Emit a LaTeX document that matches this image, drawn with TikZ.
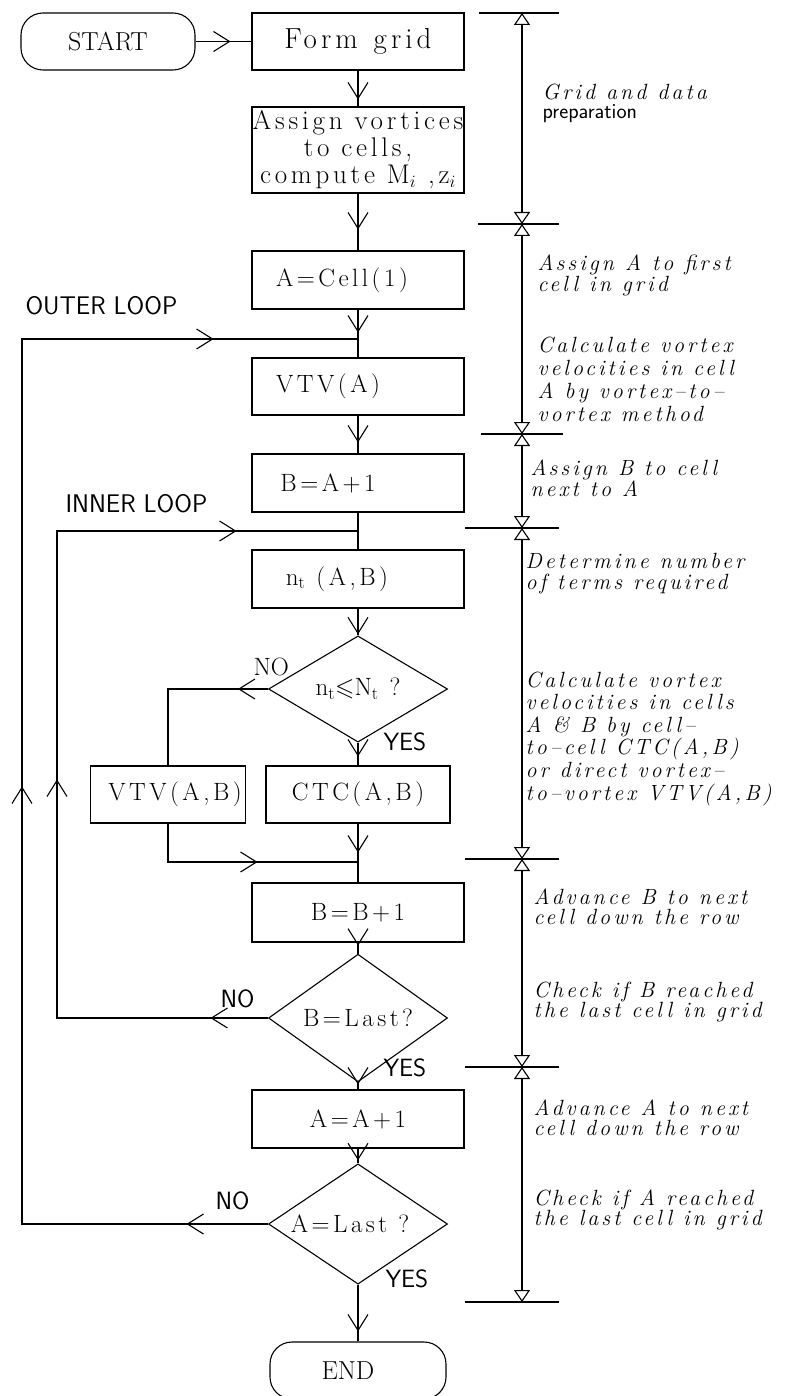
\documentclass[tikz,border=0pt]{standalone}
\usepackage{amssymb}
\usepackage{fontspec}
\setmainfont{Latin Modern Roman}
\newfontfamily\boxf{Latin Modern Roman}[LetterSpace=14]
\newfontfamily\notef{Latin Modern Roman}[LetterSpace=14]
\newfontfamily\lblf{Latin Modern Sans}
\newcommand{\notefont}[2]{\notef\itshape\fontsize{#1}{#2}\selectfont\spaceskip 11pt plus 1pt minus 1pt\relax}
\newcommand{\formfont}{\boxf\fontsize{29}{30}\selectfont\spaceskip 16pt\relax}
\usetikzlibrary{arrows.meta,decorations.markings,shapes.geometric}
\tikzset{
  vtip/.tip={Straight Barb[length=16pt,width=20pt]},
  dimtip/.tip={Triangle[open,length=12pt,width=16pt]},
  boxnode/.style={draw, rectangle, minimum width=212pt, inner sep=0pt, align=center,
    font=\boxf\fontsize{25}{27}\selectfont},
  term/.style={draw, rectangle, rounded corners=22pt, minimum width=174pt, minimum height=57pt,
    inner sep=0pt, font=\fontsize{26}{28}\selectfont},
  decision/.style={draw, diamond, minimum width=179pt, minimum height=89pt, inner sep=0pt,
    font=\boxf\fontsize{25}{27}\selectfont},
  arrowat/.style={postaction={decorate, decoration={markings, mark=at position #1 with {\arrow{vtip}}}}},
  note/.style={anchor=base west, inner sep=0pt, align=flush left, text width=300pt,
    font=\notefont{22}{20}},
  lbl/.style={anchor=base west, inner sep=0pt, font=\lblf\fontsize{25}{27}\selectfont},
}
\begin{document}
\begin{tikzpicture}[x=1pt, y=-1pt, line width=1.1pt]
\useasboundingbox (0,0) rectangle (788,1396);

% ---- main column ----
\node[term] (start) at (108,41.5) {START};
\node[boxnode, minimum height=57pt, font=\formfont] (form) at (358,41.5) {Form grid};
\node[boxnode, minimum height=86pt, font=\boxf\fontsize{27}{27}\selectfont] (assign) at (358,150)
  {Assign vortices\\to cells,\\compute M$_i$ ,z$_i$};
\node[boxnode, minimum height=58pt] (cell1) at (358,280) {\hspace*{-32pt}A=Cell(1)};
\node[boxnode, minimum height=57pt] (vtva) at (358,386.5) {\hspace*{-60pt}VTV(A)};
\node[boxnode, minimum height=58pt] (ba1) at (358,483) {\hspace*{-60pt}B=A+1};
\node[boxnode, minimum height=58pt] (nt) at (358,579) {\hspace*{-42pt}n$_\mathrm{t}$ (A,B)};
\node[decision] (d1) at (358,689) {n$_\mathrm{t}$$\leqslant$N$_\mathrm{t}$ ?};
\node[boxnode, minimum width=184pt, minimum height=57pt] (ctc) at (358,794.5) {CTC(A,B)};
\node[boxnode, minimum width=155pt, minimum height=57pt] (vtvab) at (168,794.5) {\hspace*{14pt}VTV(A,B)};
\node[boxnode, minimum height=59pt] (bb1) at (358,912.5) {B=B+1};
\node[decision] (d2) at (358,1018) {B=Last?};
\node[boxnode, minimum height=58pt] (aa1) at (358,1119) {A=A+1};
\node[decision] (d3) at (358,1224) {\hspace*{-16pt}A=Last ?};
\node[term, minimum width=176pt] (end) at (358,1370.5) {\hspace*{-20pt}END};

\coordinate (j0) at (358,339);
\coordinate (j1) at (358,531);
\coordinate (j2) at (358,862);
\coordinate (c3) at (57,531);
\coordinate (c4) at (22,339);

% ---- connectors ----
\draw[arrowat=35pt] (start) -- (form);
\draw[arrowat=-7pt] (form) -- (assign);
\draw[arrowat=-21pt] (assign) -- (cell1);
\draw[arrowat=23pt] (cell1) -- (vtva);
\draw[arrowat=-11pt] (vtva) -- (ba1);
\draw (ba1) -- (nt);
\draw[arrowat=-1pt] (nt) -- (d1);
\draw[arrowat=-9pt] (d1) -- (ctc);
\draw[arrowat=29pt] (ctc) -- (bb1);
\draw[arrowat=-8pt] (bb1) -- (d2);
\draw[arrowat=-5pt] (d2) -- (aa1);
\draw[arrowat=-3pt] (aa1) -- (d3);
\draw[arrowat=-10pt] (d3) -- (end);
\draw[arrowat=30pt] (d1.west) -| (vtvab.north);
\draw[arrowat=128pt] (vtvab.south) |- (j2);
\draw[arrowat=57.5pt, arrowat=449.5pt, arrowat=877.5pt] (d2.west) -| (c3) -- (j1);
\draw[arrowat=81.5pt, arrowat=683.5pt, arrowat=1322.5pt] (d3.west) -| (c4) -- (j0);

% ---- labels ----
\node[lbl, font=\lblf\fontsize{25.5}{27}\selectfont] (outer) at (25,315) {OUTER LOOP};
\node[lbl, font=\lblf\fontsize{25.5}{27}\selectfont] (inner) at (65,512) {INNER LOOP};
\node[lbl, font=\fontsize{25}{27}\selectfont] (no1) at (253,675) {NO};
\node[lbl] (yes1) at (383,750) {YES};
\node[lbl] (no2) at (220,1007) {NO};
\node[lbl] (yes2) at (383,1076) {YES};
\node[lbl] (no3) at (215,1209) {NO};
\node[lbl] (yes3) at (385,1287) {YES};

% ---- dimension line ----
\coordinate (t0) at (522,13);
\coordinate (t1) at (522,224);
\coordinate (t2) at (522,434);
\coordinate (t3) at (522,528);
\coordinate (t4) at (522,859);
\coordinate (t5) at (522,1067);
\coordinate (t6) at (522,1302);
\draw (479,13) -- (559,13);
\draw (478,224) -- (559,224);
\draw (481,434) -- (563,434);
\draw (465,528) -- (559,528);
\draw (465,859) -- (559,859);
\draw (465,1067) -- (559,1067);
\draw (465,1302) -- (559,1302);
\draw[dimtip-dimtip] (t0) -- (t1);
\draw[dimtip-dimtip] (t1) -- (t2);
\draw[dimtip-dimtip] (t2) -- (t3);
\draw[dimtip-dimtip] (t3) -- (t4);
\draw[dimtip-dimtip] (t4) -- (t5);
\draw[dimtip-dimtip] (t5) -- (t6);

% ---- notes ----
\node[note] (n1) at (542,100) {Grid and data};
\node[lbl, font=\lblf\fontsize{21.5}{23}\selectfont] (n1b) at (542,119) {preparation};
\node[note, font=\notefont{22}{17}] (n2) at (537,271) {Assign A to first\\cell in grid};
\node[note, font=\notefont{22}{23.3}] (n3) at (537,352)
  {Calculate vortex\\velocities in cell\\A by vortex–to–\\vortex method};
\node[note] (n4) at (530,475) {Assign B to cell\\next to A};
\node[note, font=\notefont{22}{21}] (n5) at (525,568) {Determine number\\of terms required};
\node[note, font=\notefont{22}{22.6}] (n6) at (525,687)
  {Calculate vortex\\velocities in cells\\A \& B by cell–\\to–cell CTC(A,B)\\or direct vortex–\\to–vortex VTV(A,B)};
\node[note] (n7) at (533,904) {Advance B to next\\cell down the row};
\node[note] (n8) at (533,997) {Check if B reached\\the last cell in grid};
\node[note] (n9) at (533,1115) {Advance A to next\\cell down the row};
\node[note] (n10) at (533,1205) {Check if A reached\\the last cell in grid};
\end{tikzpicture}
\end{document}
